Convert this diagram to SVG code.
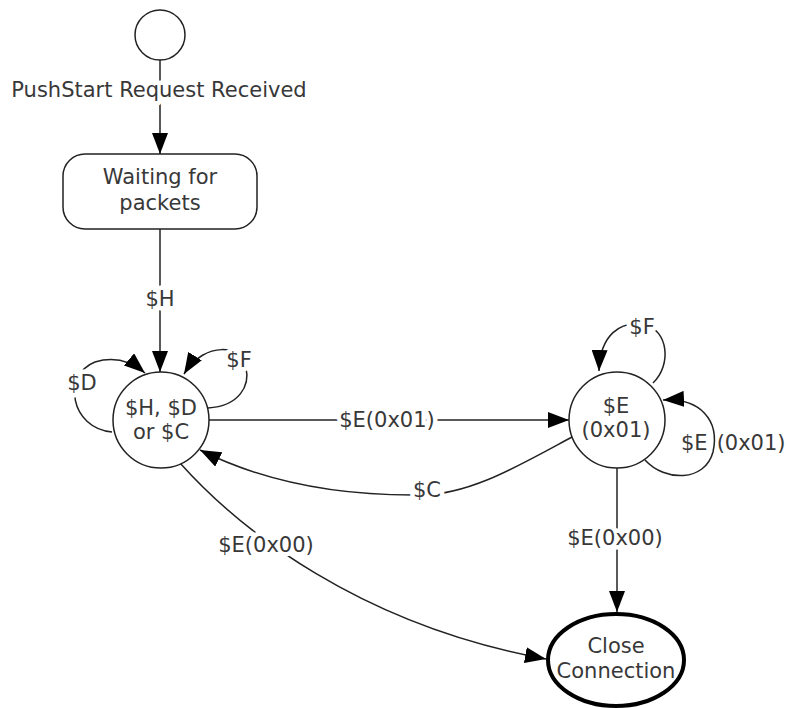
<svg xmlns="http://www.w3.org/2000/svg" width="787" height="708" viewBox="0 0 787 708">
<style>
text{font-family:"DejaVu Sans",Verdana,sans-serif;font-size:21px;fill:#383838;text-anchor:middle}
.lbl{paint-order:stroke;stroke:#fff;stroke-width:9px;stroke-linejoin:round}
.node{fill:#fff;stroke:#222;stroke-width:1.5}
.edge{fill:none;stroke:#222;stroke-width:1.5}
</style>
<defs>
<marker id="ah" markerUnits="userSpaceOnUse" markerWidth="22" markerHeight="16" refX="21" refY="8" orient="auto">
<path d="M0,0 L21,8 L0,16 z" fill="#000"/>
</marker>
</defs>
<g id="connectors">
<path class="edge" d="M160,60 L160,154" marker-end="url(#ah)"/>
<path class="edge" d="M160,229 L160,372" marker-end="url(#ah)"/>
<path class="edge" d="M209,420 L569,420" marker-end="url(#ah)"/>
<path class="edge" d="M572,437 C520,465 470,495 420,495 C330,496 260,480 200,450" marker-end="url(#ah)"/>
<path class="edge" d="M180,463 C240,530 360,625 546,659" marker-end="url(#ah)"/>
<path class="edge" d="M617,468 L617,612" marker-end="url(#ah)"/>
<path class="edge" d="M112,432 C70,428 62,375 95,362 C115,356 132,362 145,373" marker-end="url(#ah)"/>
<path class="edge" d="M208,408 C240,406 250,385 246,368 C243,345 205,340 184,374" marker-end="url(#ah)"/>
<path class="edge" d="M653,383 C672,365 668,330 645,325 C620,320 600,335 599,371" marker-end="url(#ah)"/>
<path class="edge" d="M645,460 C665,482 705,482 713,452 C720,420 700,398 663,400" marker-end="url(#ah)"/>
<text class="lbl" x="159" y="97">PushStart Request Received</text>
<text class="lbl" x="160" y="306">$H</text>
<text class="lbl" x="387" y="427">$E(0x01)</text>
<text class="lbl" x="427" y="497">$C</text>
<text class="lbl" x="266" y="552">$E(0x00)</text>
<text class="lbl" x="615" y="545">$E(0x00)</text>
<text class="lbl" x="82" y="390">$D</text>
<text class="lbl" x="239" y="367">$F</text>
<text class="lbl" x="642" y="334">$F</text>
<text x="681" y="450" style="text-anchor:start">$E<tspan dx="9">(0x01)</tspan></text>
</g>
<g id="start"><circle class="node" cx="160" cy="35" r="25"/></g>
<g id="waiting">
<rect class="node" x="63" y="154" width="194" height="75" rx="22"/>
<text x="160" y="184">Waiting for</text>
<text x="160" y="210">packets</text>
</g>
<g id="state-hdc">
<circle class="node" cx="161" cy="420" r="48"/>
<text x="161" y="415">$H, $D</text>
<text x="161" y="439">or $C</text>
</g>
<g id="state-e01">
<circle class="node" cx="617" cy="420" r="48"/>
<text x="616" y="413">$E</text>
<text x="616" y="437">(0x01)</text>
</g>
<g id="close">
<ellipse cx="616" cy="660" rx="68" ry="46" fill="#fff" stroke="#000" stroke-width="4"/>
<text x="616" y="653">Close</text>
<text x="616" y="678">Connection</text>
</g>
</svg>
